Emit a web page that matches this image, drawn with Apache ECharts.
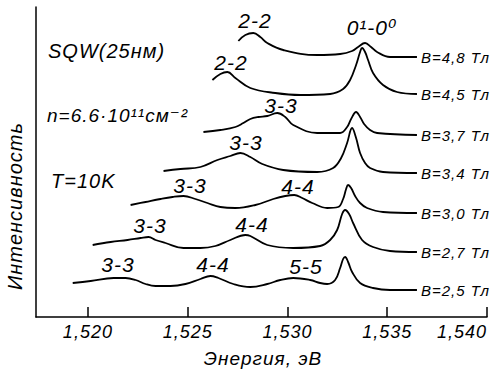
<!DOCTYPE html>
<html>
<head>
<meta charset="utf-8">
<script src="https://cdn.jsdelivr.net/npm/echarts@6/dist/echarts.min.js"></script>
<style>
html,body{margin:0;padding:0;background:#fff;}
#chart{width:497px;height:373px;}
#chart text{letter-spacing:1px;}
</style>
</head>
<body>
<div id="chart"></div>
<script>
// Energy (eV) and intensity (arbitrary units, offset spectra)
const seriesNames = ['B=4,8 Тл', 'B=4,5 Тл', 'B=3,7 Тл', 'B=3,4 Тл', 'B=3,0 Тл', 'B=2,7 Тл', 'B=2,5 Тл'];

const E_48 = [1.52754, 1.52789, 1.52829, 1.52864, 1.52899, 1.52979, 1.53149, 1.53264, 1.53324, 1.53354, 1.53389, 1.53419, 1.53449, 1.53514, 1.53649];
const I_48 = [276, 282, 284, 280, 274, 267, 262, 263, 266, 270, 274, 270, 265, 260, 260];

const E_45 = [1.52624, 1.52664, 1.52699, 1.52739, 1.52814, 1.52939, 1.53064, 1.53214, 1.53279, 1.53314, 1.53344, 1.53364, 1.53374, 1.53389, 1.53404, 1.53429, 1.53479, 1.53549, 1.53649];
const I_45 = [237, 243, 245, 239, 229, 224, 222, 223, 228, 237, 252, 265, 269, 265, 257, 244, 232, 225, 223];

const E_37 = [1.52579, 1.52664, 1.52739, 1.52779, 1.52814, 1.52854, 1.52899, 1.52949, 1.52989, 1.53029, 1.53149, 1.53264, 1.53299, 1.53319, 1.53344, 1.53364, 1.53384, 1.53414, 1.53449, 1.53649];
const I_37 = [185, 187, 190, 194, 198, 200, 201, 204, 200, 192, 184, 184, 190, 198, 205, 200, 193, 187, 184, 182];

const E_34 = [1.52379, 1.52464, 1.52564, 1.52649, 1.52714, 1.52764, 1.52814, 1.52874, 1.52979, 1.53149, 1.53229, 1.53269, 1.53299, 1.53324, 1.53344, 1.53364, 1.53389, 1.53414, 1.53479, 1.53649];
const I_34 = [146, 148, 150, 157, 161, 164, 160, 153, 147, 145, 149, 159, 174, 189, 179, 164, 154, 149, 145, 144];

const E_30 = [1.52214, 1.52289, 1.52364, 1.52424, 1.52479, 1.52539, 1.52599, 1.52664, 1.52739, 1.52839, 1.52929, 1.52989, 1.53034, 1.53074, 1.53124, 1.53199, 1.53254, 1.53279, 1.53294, 1.53304, 1.53319, 1.53339, 1.53364, 1.53399, 1.53479, 1.53649];
const I_30 = [112, 115, 118, 120, 121, 118, 114, 110, 109, 112, 118, 121, 122, 119, 114, 109, 110, 118, 128, 132, 129, 121, 114, 109, 105, 104];

const E_27 = [1.52024, 1.52114, 1.52199, 1.52264, 1.52304, 1.52339, 1.52389, 1.52479, 1.52564, 1.52639, 1.52714, 1.52789, 1.52814, 1.52899, 1.53029, 1.53164, 1.53214, 1.53249, 1.53274, 1.53289, 1.53309, 1.53329, 1.53374, 1.53429, 1.53514, 1.53649];
const I_27 = [72, 75, 77, 79, 80, 77, 74, 69, 69, 71, 77, 82, 81, 72, 69, 71, 77, 87, 103, 107, 103, 94, 77, 70, 66, 65];

const E_25 = [1.51924, 1.52014, 1.52129, 1.52189, 1.52239, 1.52289, 1.52339, 1.52414, 1.52489, 1.52564, 1.52614, 1.52654, 1.52729, 1.52814, 1.52899, 1.52964, 1.53029, 1.53114, 1.53164, 1.53199, 1.53239, 1.53264, 1.53279, 1.53289, 1.53304, 1.53324, 1.53364, 1.53429, 1.53514, 1.53649];
const I_25 = [34, 36, 39, 39, 37, 33, 31, 31, 33, 38, 41, 39, 33, 30, 33, 37, 39, 37, 34, 33, 37, 49, 58, 60, 55, 45, 34, 29, 27, 27];

const xTicks = [1.520, 1.525, 1.530, 1.535, 1.540];

const allE = [E_48, E_45, E_37, E_34, E_30, E_27, E_25];
const allI = [I_48, I_45, I_37, I_34, I_30, I_27, I_25];

const FONT = "'Liberation Sans', 'DejaVu Sans', sans-serif";
const chart = echarts.init(document.getElementById('chart'), null, {renderer: 'svg'});

const series = seriesNames.map((name, k) => ({
  name: name,
  type: 'line',
  data: allE[k].map((e, i) => [e, allI[k][i]]),
  smooth: 0.4,
  showSymbol: false,
  lineStyle: {color: '#000', width: 1.8},
  endLabel: {
    show: true, formatter: '{a}', distance: 4,
    color: '#000', fontSize: 15, fontStyle: 'italic', fontFamily: FONT
  }
}));

function txt(x, y, text, size, align, extra) {
  return Object.assign({
    type: 'text', x: x, y: y, silent: true,
    style: {text: text, fill: '#000', font: 'italic ' + size + 'px ' + FONT, align: align || 'center', verticalAlign: 'middle'}
  }, extra || {});
}

chart.setOption({
  animation: false,
  backgroundColor: '#fff',
  grid: {left: 36, right: 10, top: 7, bottom: 56},
  xAxis: {
    type: 'value', min: 1.5174, max: 1.540,
    axisLine: {show: true, lineStyle: {color: '#000', width: 1.5}},
    axisTick: {show: true, inside: true, length: 10, customValues: xTicks, lineStyle: {color: '#000', width: 1.5}},
    axisLabel: {
      customValues: xTicks, margin: 6, color: '#000', fontSize: 18, fontStyle: 'italic', fontFamily: FONT,
      alignMaxLabel: 'right',
      formatter: v => v.toFixed(3).replace('.', ',')
    },
    splitLine: {show: false}
  },
  yAxis: {
    type: 'value', min: 0, max: 310,
    axisLine: {show: true, lineStyle: {color: '#000', width: 1.5}},
    axisTick: {show: false}, axisLabel: {show: false}, splitLine: {show: false}
  },
  series: series,
  graphic: [
    txt(15, 206, 'Интенсивность', 20, 'center', {rotation: Math.PI / 2}),
    txt(263, 358, 'Энергия, эВ', 19),
    txt(48, 51, 'SQW(25нм)', 20, 'left'),
    txt(47, 115, 'n=6.6·10¹¹см⁻²', 19, 'left'),
    txt(51, 181, 'T=10K', 20, 'left'),
    txt(255, 20, '2-2', 21),
    txt(372, 27, '0¹-0⁰', 21),
    txt(231, 62, '2-2', 21),
    txt(281, 105, '3-3', 21),
    txt(246, 142, '3-3', 21),
    txt(190, 185, '3-3', 21),
    txt(298, 186, '4-4', 21),
    txt(150, 225, '3-3', 21),
    txt(252, 224, '4-4', 21),
    txt(118, 264, '3-3', 21),
    txt(213, 264, '4-4', 21),
    txt(306, 266, '5-5', 21)
  ]
});
</script>
</body>
</html>
